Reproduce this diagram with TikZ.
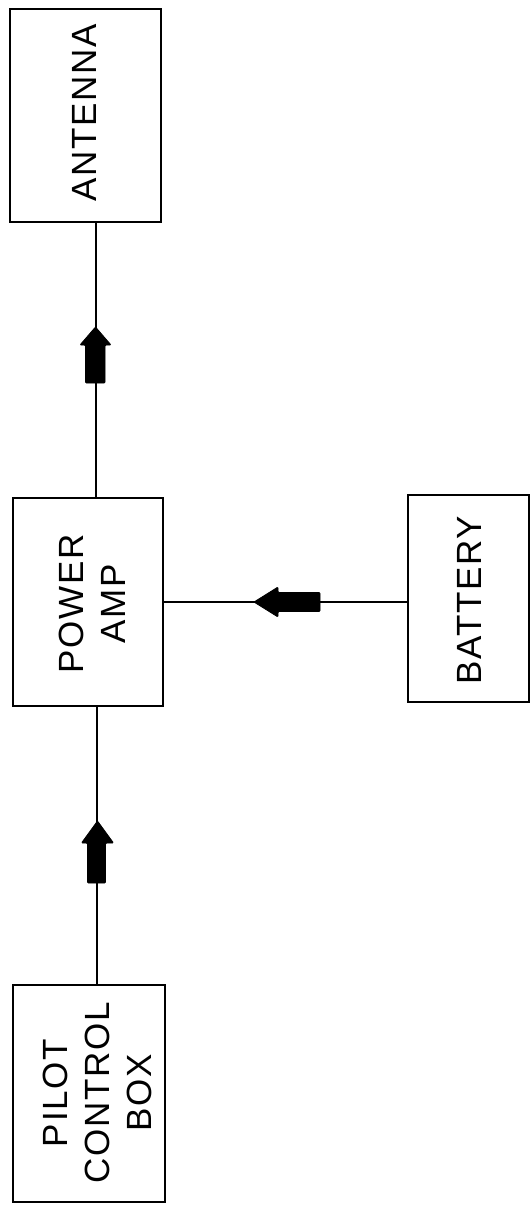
\documentclass[tikz,border=0pt]{standalone}
\usepackage{fontspec}
\setmainfont{Liberation Sans}[LetterSpace=5]
\begin{document}
\begin{tikzpicture}[x=1pt,y=-1pt,
  boxnode/.style={draw=black, line width=2.6pt, minimum width=#1, inner sep=0pt},
  lbl/.style={rotate=90, align=center, font=\fontsize{35}{42}\selectfont, inner sep=0pt},
  wire/.style={line width=1.8pt, black},
  blockarrow/.style={fill=black, draw=black, line width=0.8pt, rounded corners=1pt}]
\useasboundingbox (0,0) rectangle (532,1205);
\fill[white] (0,0) rectangle (532,1205);
% boxes
\node[boxnode=151pt, minimum height=213pt] (ant) at (85.5,115.5) {};
\node[boxnode=150pt, minimum height=208pt] (amp) at (88,602) {};
\node[boxnode=121pt, minimum height=207pt] (bat) at (468.5,598.5) {};
\node[boxnode=152pt, minimum height=217pt] (pcb) at (89,1093.5) {};
% labels
\node[lbl] (tant) at (84.5,113) {ANTENNA};
\node[lbl] (tamp) at (92,604) {POWER\\AMP};
\node[lbl] (tbat) at (469,600) {BATTERY};
\node[lbl] (tpcb) at (97,1093) {PILOT\\CONTROL\\BOX};
% connector guides
\coordinate (xa) at (96,0);
\coordinate (xb) at (97,0);
\coordinate (yb) at (0,602);
% connectors
\draw[wire] (ant.south -| xa) -- (amp.north -| xa);
\draw[wire] (amp.south -| xb) -- (pcb.north -| xb);
\draw[wire] (amp.east |- yb) -- (bat.west |- yb);
% block arrows on connectors
\draw[blockarrow] (95.5,327) -- (111,345) -- (105,345) -- (105,383) -- (85.5,383) -- (85.5,345) -- (80,345) -- cycle;
\draw[blockarrow] (97.5,821) -- (113.5,843) -- (105.5,843) -- (105.5,883) -- (87.5,883) -- (87.5,843) -- (81.5,843) -- cycle;
\draw[blockarrow] (254,602) -- (278,587) -- (278,592.5) -- (320,592.5) -- (320,611.5) -- (278,611.5) -- (278,617) -- cycle;
\end{tikzpicture}
\end{document}
